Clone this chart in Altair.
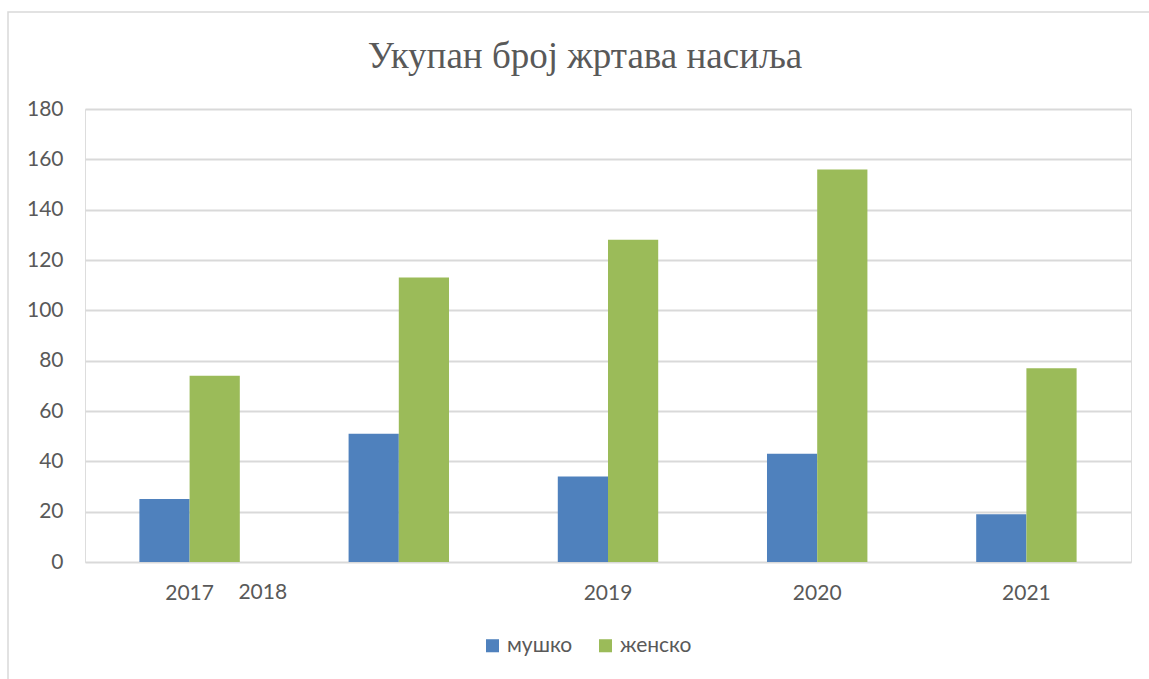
import altair as alt
import pandas as pd

years = ["2017", "2018", "2019", "2020", "2021"]
male = [25, 51, 34, 43, 19]
female = [74, 113, 128, 156, 77]
series = ["мушко", "женско"]
colors = ["#4F81BD", "#9BBB59"]
y_ticks = [0, 20, 40, 60, 80, 100, 120, 140, 160, 180]
title = "Укупан број жртава насиља"
shifted_label = "2018"

rows = []
for i, y in enumerate(years):
    rows.append({"year": y, "sex": series[0], "value": male[i]})
    rows.append({"year": y, "sex": series[1], "value": female[i]})
df = pd.DataFrame(rows)

FONT = "Lato"
GREY = "#595959"

x_enc = alt.X(
    "year:N",
    sort=years,
    title=None,
    scale=alt.Scale(paddingInner=0.52, paddingOuter=0.26),
    axis=alt.Axis(
        domain=False, ticks=False, labelAngle=0,
        labelExpr="datum.value == '2018' ? '' : datum.value",
        labelFont=FONT, labelFontSize=21, labelColor=GREY, labelPadding=20,
    ),
)

bars = alt.Chart(df).mark_bar().encode(
    x=x_enc,
    xOffset=alt.XOffset("sex:N", sort=series, scale=alt.Scale(paddingInner=0, paddingOuter=0)),
    y=alt.Y(
        "value:Q",
        title=None,
        scale=alt.Scale(domain=[0, 180], nice=False),
        axis=alt.Axis(
            values=y_ticks, domain=False, ticks=False, grid=True,
            gridColor="#d9d9d9", gridWidth=1.8,
            labelFont=FONT, labelFontSize=21, labelColor=GREY, labelPadding=22,
        ),
    ),
    color=alt.Color(
        "sex:N",
        sort=series,
        scale=alt.Scale(domain=series, range=colors),
        legend=alt.Legend(
            title=None, orient="none", direction="horizontal",
            legendX=397, legendY=526,
            symbolType="square", symbolSize=170, symbolStrokeWidth=0,
            labelFont=FONT, labelFontSize=21, labelColor=GREY,
            labelOffset=4, columnPadding=22,
        ),
    ),
)

extra = alt.Chart(pd.DataFrame({"year": [shifted_label], "label": [shifted_label]})).mark_text(
    dx=-136, dy=20, baseline="top", font=FONT, fontSize=21, color=GREY
).encode(
    x=alt.X("year:N", sort=years),
    y=alt.value(453),
    text="label:N",
)

frame = alt.Chart(pd.DataFrame({"a": [0]})).mark_rect(
    fill=None, stroke="#d9d9d9", strokeWidth=1.5, clip=False
).encode(
    x=alt.value(-77), x2=alt.value(1100), y=alt.value(-97), y2=alt.value(700)
)

chart = alt.layer(frame, bars, extra).properties(
    width=1046,
    height=453,
    title=alt.TitleParams(
        text=title, font="Liberation Serif", fontSize=37, fontWeight="normal",
        color=GREY, anchor="middle", dx=-23, offset=-94, baseline="alphabetic",
    ),
    padding={"left": 85, "top": 109, "right": 18, "bottom": 117},
    autosize=alt.AutoSizeParams(type="none"),
).configure_view(stroke=None).configure(background="white")

chart.save("out.html", embed_options={"renderer": "svg", "actions": False})
